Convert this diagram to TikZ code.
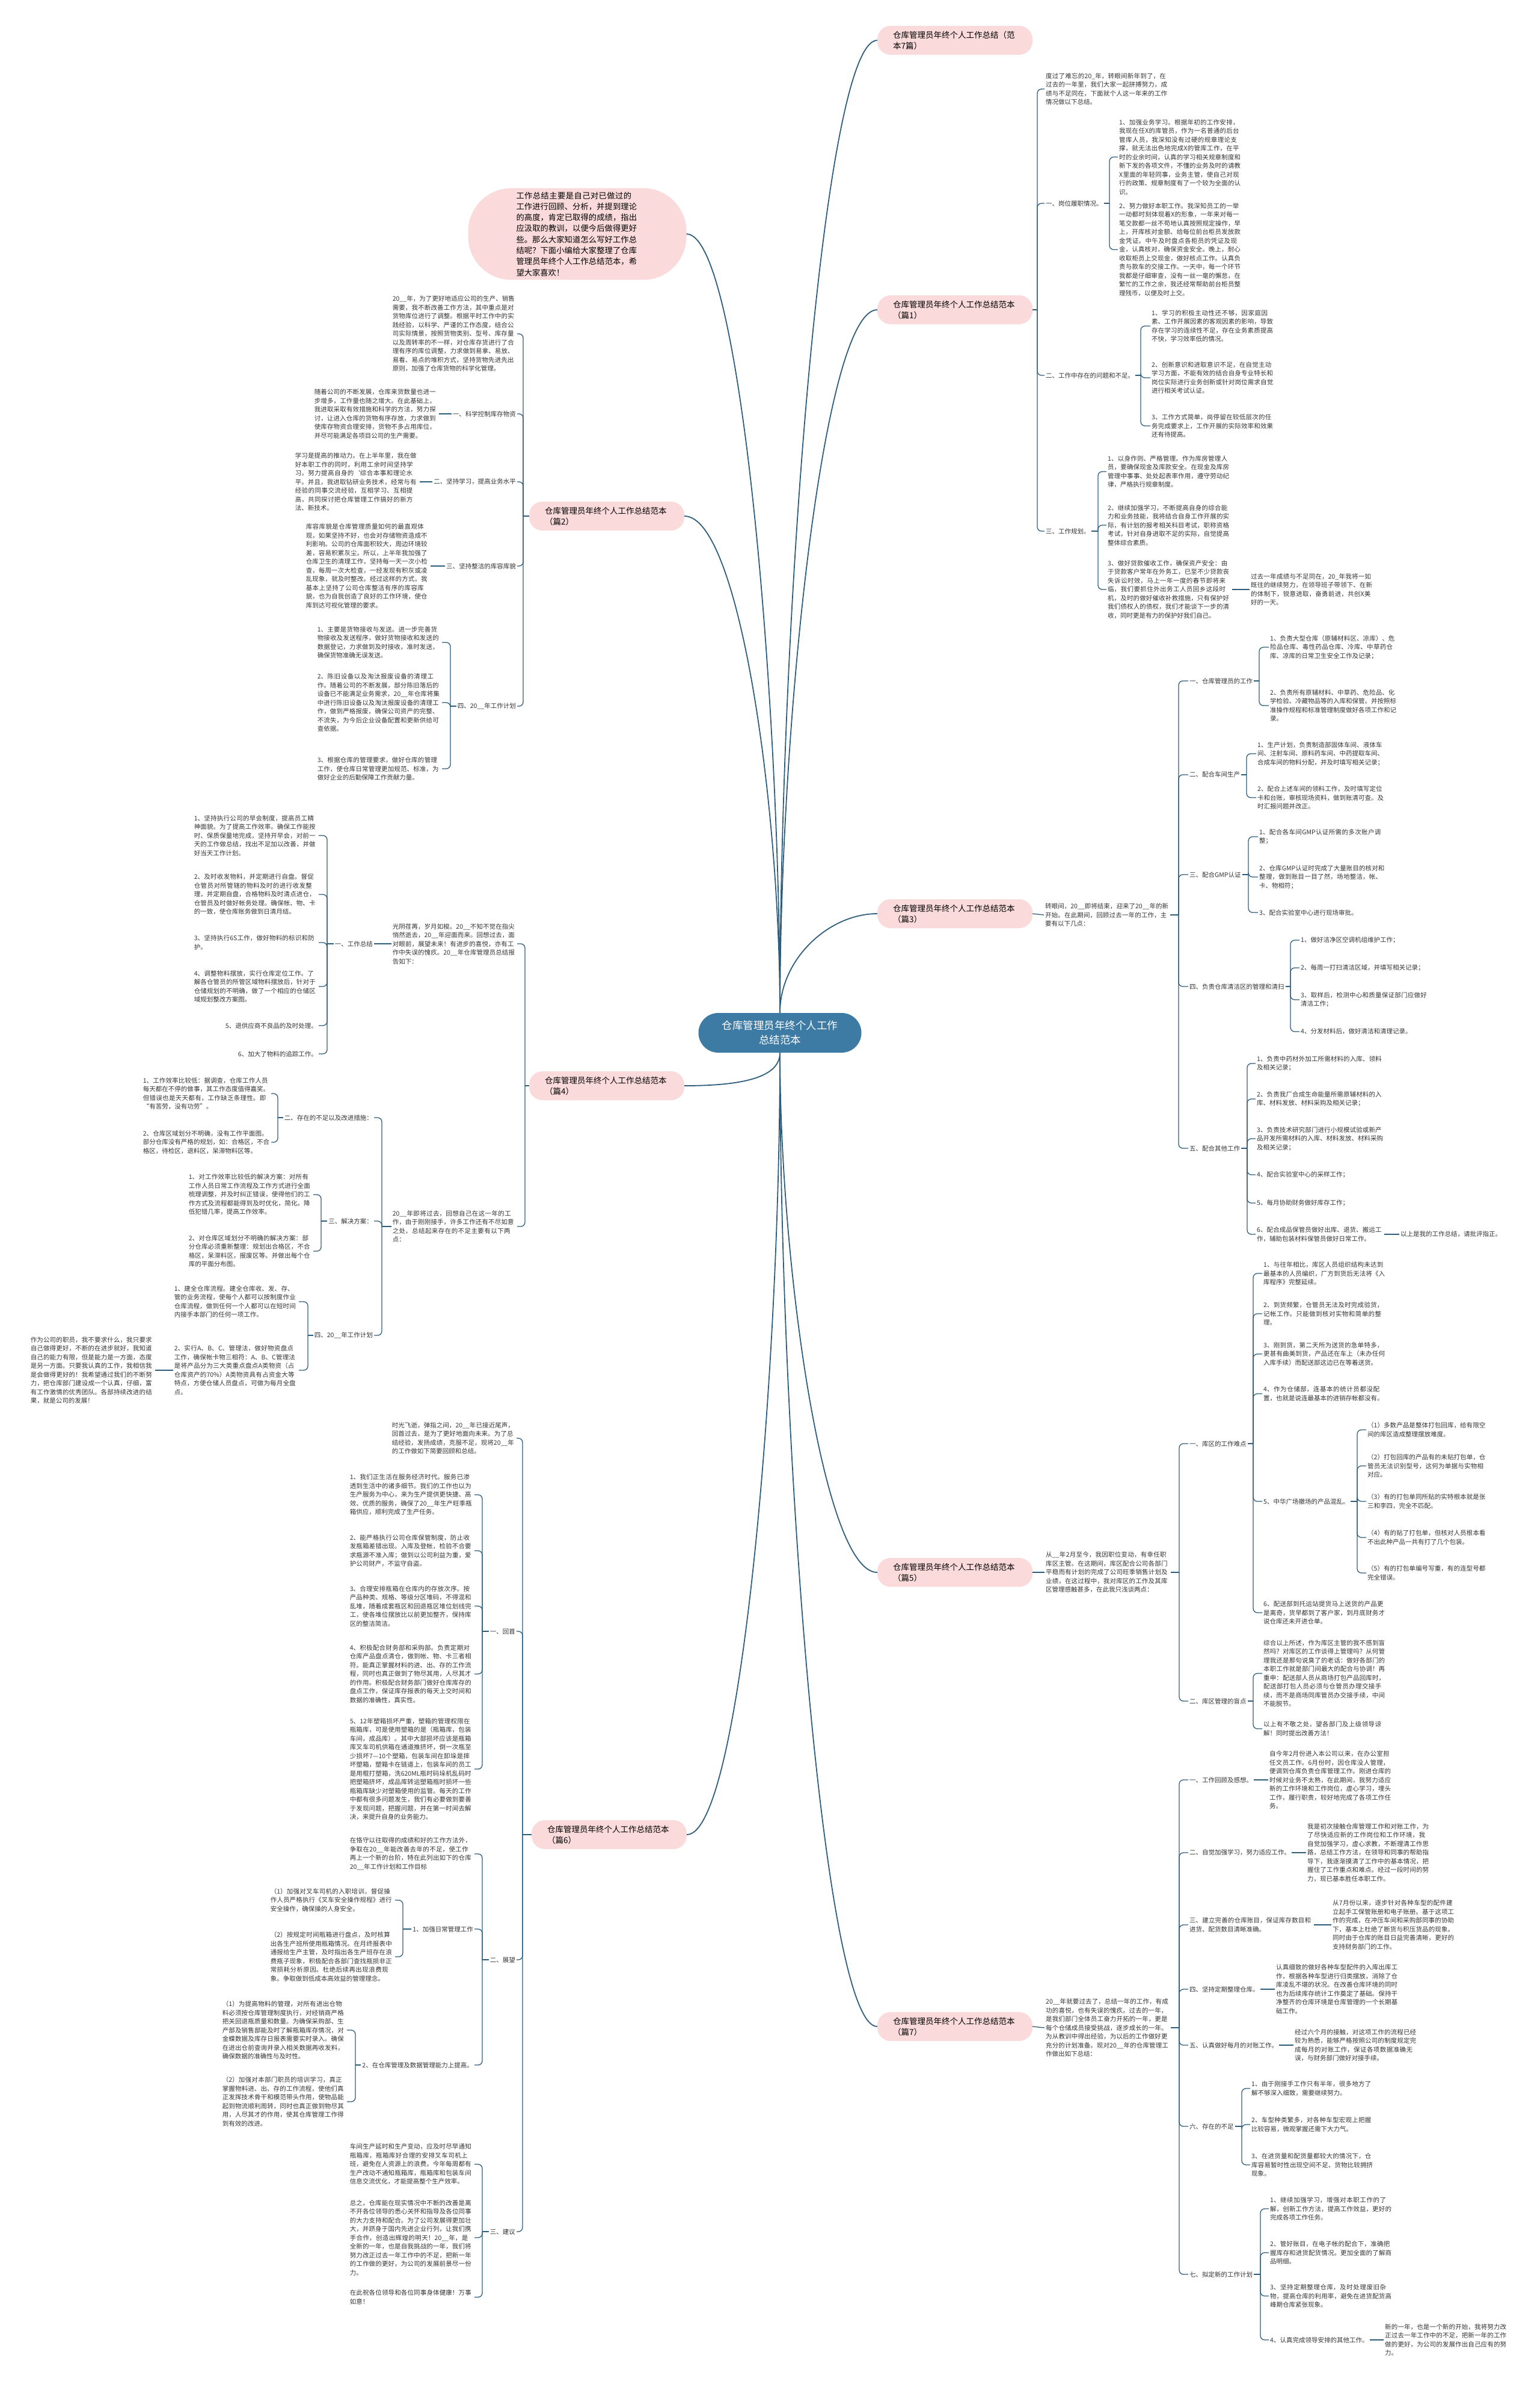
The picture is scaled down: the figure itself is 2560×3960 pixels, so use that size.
\documentclass[tikz,border=0pt]{standalone}
\usepackage{fontspec}
\setmainfont{Noto Sans CJK SC}
\XeTeXlinebreaklocale "zh"
\XeTeXlinebreakskip = 0pt plus 1pt
\usepackage{tikz}
\usetikzlibrary{calc}
\definecolor{rootfill}{HTML}{3D7BA5}
\definecolor{topicfill}{HTML}{FADADA}
\definecolor{linkcol}{HTML}{2E5D7C}
\definecolor{inkgray}{HTML}{333333}
\newcommand{\leaffont}{\fontsize{10.5}{14.5}\selectfont}

\begin{document}
\begin{tikzpicture}[x=1pt,y=-1pt]
    \tikzstyle{rootbox}=[fill=rootfill,text=white,rounded corners=33pt,minimum width=271pt,minimum height=66pt,align=center,font=\fontsize{17.5}{24}\selectfont]
    \tikzstyle{tbox}=[fill=topicfill,rounded corners=22pt,inner xsep=26pt,inner ysep=5pt,text width=206pt,minimum height=48pt,align=left,font=\fontsize{13.5}{18}\selectfont]
    \tikzstyle{bubble}=[fill=topicfill,rounded corners=72pt,inner xsep=80pt,inner ysep=6pt,text width=203pt,align=left,font=\fontsize{13.3}{18.3}\selectfont]
    \tikzstyle{leaf}=[inner sep=2pt,text width=205pt,align=left,text=inkgray,font=\leaffont]
    \tikzstyle{rleaf}=[leaf,anchor=west]
    \tikzstyle{lleaf}=[leaf,anchor=east]
    \tikzstyle{rlbl}=[inner sep=2pt,anchor=west,text=inkgray,font=\leaffont]
    \tikzstyle{llbl}=[inner sep=2pt,anchor=east,text=inkgray,font=\leaffont]
    \tikzstyle{trunk}=[draw=linkcol,line width=1.8pt]
    \tikzstyle{link}=[draw=linkcol,line width=1.3pt,rounded corners=7pt]
    \useasboundingbox (0,0) rectangle (2560,3960);

    % centre and topics
    \node[rootbox] (root) at (1297,1717) {仓库管理员年终个人工作\\总结范本};
    \node[tbox] (t7) at (1588,67) {仓库管理员年终个人工作总结（范\\本7篇）};
    \node[tbox] (p1) at (1588,515) {仓库管理员年终个人工作总结范本\\（篇1）};
    \node[tbox] (p3) at (1588,1519) {仓库管理员年终个人工作总结范本\\（篇3）};
    \node[tbox] (p5) at (1588,2614) {仓库管理员年终个人工作总结范本\\（篇5）};
    \node[tbox] (p7) at (1588,3369) {仓库管理员年终个人工作总结范本\\（篇7）};
    \node[bubble] (lead) at (960,389) {工作总结主要是自己对已做过的工作进行回顾、分析，并提到理论的高度，肯定已取得的成绩，指出应汲取的教训，以便今后做得更好些。那么大家知道怎么写好工作总结呢？下面小编给大家整理了仓库管理员年终个人工作总结范本，希望大家喜欢！};
    \node[tbox] (p2) at (1009,858) {仓库管理员年终个人工作总结范本\\（篇2）};
    \node[tbox] (p4) at (1009,1805) {仓库管理员年终个人工作总结范本\\（篇4）};
    \node[tbox] (p6) at (1013,3050) {仓库管理员年终个人工作总结范本\\（篇6）};

    \draw[trunk] (root.north) .. controls ($(root.north)+(0,-650)$) and ($(t7.west)+(-90,0)$) .. (t7.west);
    \draw[trunk] (root.north) .. controls ($(root.north)+(0,-480)$) and ($(p1.west)+(-90,0)$) .. (p1.west);
    \draw[trunk] (root.north) .. controls ($(root.north)+(0,-90)$) and ($(p3.west)+(-80,0)$) .. (p3.west);
    \draw[trunk] (root.south) .. controls ($(root.south)+(0,350)$) and ($(p5.west)+(-90,0)$) .. (p5.west);
    \draw[trunk] (root.south) .. controls ($(root.south)+(0,650)$) and ($(p7.west)+(-90,0)$) .. (p7.west);
    \draw[trunk] (root.north) .. controls ($(root.north)+(0,-520)$) and ($(lead.east)+(90,0)$) .. (lead.east);
    \draw[trunk] (root.north) .. controls ($(root.north)+(0,-350)$) and ($(p2.east)+(90,0)$) .. (p2.east);
    \draw[trunk] (root.south) .. controls ($(root.south)+(0,40)$) and ($(p4.east)+(100,0)$) .. (p4.east);
    \draw[trunk] (root.south) .. controls ($(root.south)+(0,530)$) and ($(p6.east)+(90,0)$) .. (p6.east);

    % 篇1
    \node[rleaf] (p1i) at (1737,148) {度过了难忘的20\_年，转眼间新年到了，在过去的一年里，我们大家一起拼搏努力，成绩与不足同在，下面就个人这一年来的工作情况做以下总结。};
    \node[rlbl] (p1a) at (1737,338) {一、岗位履职情况。};
    \node[rleaf] (p1a1) at (1859,261) {1、加强业务学习。根据年初的工作安排，我现在任X的库管员，作为一名普通的后台管库人员，我深知没有过硬的规章理论支撑，就无法出色地完成X的管库工作，在平时的业余时间，认真的学习相关规章制度和新下发的各项文件，不懂的业务及时的请教X里面的年轻同事，业务主管，使自己对现行的政策、规章制度有了一个较为全面的认识。};
    \node[rleaf] (p1a2) at (1859,415) {2、努力做好本职工作。我深知员工的一举一动都时刻体现着X的形象，一年来对每一笔交款都一丝不苟地认真按照规定操作，早上，开库核对金额、给每位前台柜员发放款金凭证。中午及时盘点各柜员的凭证及现金，认真核对，确保资金安全。晚上，耐心收取柜员上交现金，做好核点工作。认真负责与款车的交接工作。一天中，每一个环节我都是仔细审查，没有一丝一毫的懈怠，在繁忙的工作之余，我还经常帮助前台柜员整理残币，以便及时上交。};
    \node[rlbl] (p1b) at (1737,624) {二、工作中存在的问题和不足。};
    \node[rleaf] (p1b1) at (1913,542) {1、学习的积极主动性还不够，因家庭因素、工作开展因素的客观因素的影响，导致存在学习的连续性不足，存在业务素质提高不快，学习效率低的情况。};
    \node[rleaf] (p1b2) at (1913,628) {2、创新意识和进取意识不足，在自觉主动学习方面，不能有效的结合自身专业特长和岗位实际进行业务创新或针对岗位需求自觉进行相关考试认证。};
    \node[rleaf] (p1b3) at (1913,708) {3、工作方式简单，尚停留在较低层次的任务完成要求上，工作开展的实际效率和效果还有待提高。};
    \node[rlbl] (p1c) at (1737,883) {三、工作规划。};
    \node[rleaf] (p1c1) at (1840,784) {1、以身作则、严格管理。作为库房管理人员，要确保现金及库款安全。在现金及库房管理中事事、处处起表率作用，遵守劳动纪律，严格执行规章制度。};
    \node[rleaf] (p1c2) at (1840,873) {2、继续加强学习，不断提高自身的综合能力和业务技能，我将结合自身工作开展的实际，有计划的报考相关科目考试，职称资格考试，针对自身进取不足的实际，自觉提高整体综合素质。};
    \node[rleaf] (p1c3) at (1840,980) {3、做好贷款催收工作，确保资产安全：由于贷款客户常年在外务工，已至不少贷款丧失诉讼时效，马上一年一度的春节即将来临，我们要抓住外出务工人员回乡这段时机，及时的做好催收补救措施，只有保护好我们债权人的债权，我们才能谈下一步的清收，同时更是有力的保护好我们自己。};
    \node[rleaf] (p1c3a) at (2078,980) {过去一年成绩与不足同在，20\_年我将一如既往的继续努力，在领导班子带领下、在新的体制下，锐意进取，奋勇前进，共创X美好的一天。};
    \coordinate (s1) at (1725,515);
    \coordinate (s1a) at (1845,338);
    \coordinate (s1b) at (1897,624);
    \coordinate (s1c) at (1826,883);
    \draw[link] (p1.east) -- (s1);
    \foreach \n in {p1i,p1a,p1b,p1c} \draw[link] (s1) |- (\n.west);
    \draw[link] (p1a.east) -- (s1a);
    \foreach \n in {p1a1,p1a2} \draw[link] (s1a) |- (\n.west);
    \draw[link] (p1b.east) -- (s1b);
    \foreach \n in {p1b1,p1b2,p1b3} \draw[link] (s1b) |- (\n.west);
    \draw[link] (p1c.east) -- (s1c);
    \foreach \n in {p1c1,p1c2,p1c3} \draw[link] (s1c) |- (\n.west);
    \draw[link] (p1c3.east) -- (p1c3a.west);

    % 篇3
    \node[rleaf,text width=206pt] (p3i) at (1736,1521) {转眼间，20\_\_即将结束，迎来了20\_\_年的新开始。在此期间，回顾过去一年的工作，主要有以下几点：};
    \node[rlbl] (p3a) at (1976,1132) {一、仓库管理员的工作};
    \node[rleaf,text width=210pt] (p3a1) at (2110,1076) {1、负责大型仓库（原辅材料区、凉库）、危险品仓库、毒性药品仓库、冷库、中草药仓库、凉库的日常卫生安全工作及记录；};
    \node[rleaf,text width=210pt] (p3a2) at (2110,1173) {2、负责所有原辅材料、中草药、危险品、化学检验、冷藏物品等的入库和保管。并按照标准操作规程和标准管理制度做好各项工作和记录。};
    \node[rlbl] (p3b) at (1976,1288) {二、配合车间生产};
    \node[rleaf,text width=210pt] (p3b1) at (2089,1253) {1、生产计划，负责制造部固体车间、液体车间、注射车间、原料药车间、中药提取车间、合成车间的物料分配，并及时填写相关记录；};
    \node[rleaf,text width=210pt] (p3b2) at (2089,1326) {2、配合上述车间的领料工作，及时填写定位卡和台账，审核现场资料，做到账清可查。及时汇报问题并改正。};
    \node[rlbl] (p3c) at (1976,1454) {三、配合GMP认证};
    \node[rleaf,text width=210pt] (p3c1) at (2092,1391) {1、配合各车间GMP认证所需的多次账户调整；};
    \node[rleaf,text width=210pt] (p3c2) at (2092,1458) {2、仓库GMP认证时完成了大量账目的核对和整理，做到账目一目了然，场地整洁，帐、卡、物相符；};
    \node[rlbl] (p3c3) at (2092,1517) {3、配合实验室中心进行现场审批。};
    \node[rlbl] (p3d) at (1976,1640) {四、负责仓库清洁区的管理和清扫};
    \node[rlbl] (p3d1) at (2161,1563) {1、做好洁净区空调机组维护工作；};
    \node[rlbl] (p3d2) at (2161,1609) {2、每周一打扫清洁区域，并填写相关记录；};
    \node[rleaf,text width=215pt] (p3d3) at (2161,1662) {3、取样后，检测中心和质量保证部门应做好清洁工作；};
    \node[rlbl] (p3d4) at (2161,1715) {4、分发材料后，做好清洁和清理记录。};
    \node[rlbl] (p3e) at (1976,1909) {五、配合其他工作};
    \node[rleaf,text width=210pt] (p3e1) at (2088,1768) {1、负责中药材外加工所需材料的入库、领料及相关记录；};
    \node[rleaf,text width=210pt] (p3e2) at (2088,1827) {2、负责我厂合成生命能量所需原辅材料的入库、材料发放、材料采购及相关记录；};
    \node[rleaf,text width=210pt] (p3e3) at (2088,1893) {3、负责技术研究部门进行小规模试验或新产品开发所需材料的入库、材料发放、材料采购及相关记录；};
    \node[rlbl] (p3e4) at (2088,1953) {4、配合实验室中心的采样工作；};
    \node[rlbl] (p3e5) at (2088,2000) {5、每月协助财务做好库存工作；};
    \node[rleaf,text width=210pt] (p3e6) at (2088,2052) {6、配合成品保管员做好出库、退货、搬运工作，辅助包装材料保管员做好日常工作。};
    \node[rlbl] (p3e6a) at (2327,2052) {以上是我的工作总结，请批评指正。};
    \coordinate (s3) at (1960,1521);
    \coordinate (s3a) at (2094,1132);
    \coordinate (s3b) at (2073,1288);
    \coordinate (s3c) at (2076,1454);
    \coordinate (s3d) at (2146,1640);
    \coordinate (s3e) at (2074,1909);
    \draw[link] (p3.east) -- (p3i.west);
    \draw[link] (p3i.east) -- (s3);
    \foreach \n in {p3a,p3b,p3c,p3d,p3e} \draw[link] (s3) |- (\n.west);
    \draw[link] (p3a.east) -- (s3a);
    \foreach \n in {p3a1,p3a2} \draw[link] (s3a) |- (\n.west);
    \draw[link] (p3b.east) -- (s3b);
    \foreach \n in {p3b1,p3b2} \draw[link] (s3b) |- (\n.west);
    \draw[link] (p3c.east) -- (s3c);
    \foreach \n in {p3c1,p3c2,p3c3} \draw[link] (s3c) |- (\n.west);
    \draw[link] (p3d.east) -- (s3d);
    \foreach \n in {p3d1,p3d2,p3d3,p3d4} \draw[link] (s3d) |- (\n.west);
    \draw[link] (p3e.east) -- (s3e);
    \foreach \n in {p3e1,p3e2,p3e3,p3e4,p3e5,p3e6} \draw[link] (s3e) |- (\n.west);
    \draw[link] (p3e6.east) -- (p3e6a.west);

    % 篇5
    \node[rleaf,text width=206pt] (p5i) at (1737,2614) {从\_\_年2月至今，我因职位变动，有幸任职库区主管。在这期间，库区配合公司各部门平稳而有计划的完成了公司旺季销售计划及业绩，在这过程中，我对库区的工作及其库区管理感触甚多，在此我只浅谈两点：};
    \node[rlbl] (p5a) at (1976,2400) {一、库区的工作难点};
    \node[rleaf] (p5a1) at (2099,2117) {1、与往年相比，库区人员组织结构未达到最基本的人员编织，厂方到货后无法将《入库程序》完整延续。};
    \node[rleaf] (p5a2) at (2099,2184) {2、到货频繁，仓管员无法及时完成验货，记帐工作。只能做到核对实物和简单的整理。};
    \node[rleaf] (p5a3) at (2099,2251) {3、刚到货，第二天所为送货的急单特多，更甚有曲美到货，产品还在车上（未办任何入库手续）而配送部这边已在等着送货。};
    \node[rleaf] (p5a4) at (2099,2317) {4、作为仓储部，连基本的统计员都没配置，也就是说连最基本的进销存帐都没有。};
    \node[rlbl] (p5a5) at (2099,2496) {5、中华广场撤场的产品混乱。};
    \node[rleaf,text width=198pt] (p5a5a) at (2272,2377) {（1）多数产品是整体打包回库，给有限空间的库区造成整理摆放难度。};
    \node[rleaf,text width=198pt] (p5a5b) at (2272,2437) {（2）打包回库的产品有的未贴打包单，仓管员无法识别型号，这何为单据与实物相对应。};
    \node[rleaf,text width=198pt] (p5a5c) at (2272,2496) {（3）有的打包单同所贴的实特根本就是张三和李四，完全不匹配。};
    \node[rleaf,text width=198pt] (p5a5d) at (2272,2556) {（4）有的贴了打包单，但核对人员根本看不出此种产品一共有打了几个包装。};
    \node[rleaf,text width=198pt] (p5a5e) at (2272,2615) {（5）有的打包单编号写重，有的连型号都完全错误。};
    \node[rleaf] (p5a6) at (2099,2681) {6、配送部到托运站提货马上送货的产品更是离奇，货早都到了客户家，到月底财务才说仓库还未开进仓单。};
    \node[rlbl] (p5b) at (1976,2828) {二、库区管理的盲点};
    \node[rleaf] (p5b1) at (2099,2782) {综合以上所述，作为库区主管的我不感到盲然吗？对库区的工作谈得上管理吗？从何管理我还是那句说臭了的老话：做好各部门的本职工作就是部门间最大的配合与协调！再重申：配送部人员从商场打包产品回库时，配送部打包人员必须与仓管员办理交接手续，而不是商场同库管员办交接手续，中间不能脱节。};
    \node[rleaf] (p5b2) at (2099,2874) {以上有不敬之处，望各部门及上级领导谅解！同时提出改善方法！};
    \coordinate (s5) at (1961,2614);
    \coordinate (s5a) at (2084,2400);
    \coordinate (s5a5) at (2257,2496);
    \coordinate (s5b) at (2084,2828);
    \draw[link] (p5.east) -- (p5i.west);
    \draw[link] (p5i.east) -- (s5);
    \foreach \n in {p5a,p5b} \draw[link] (s5) |- (\n.west);
    \draw[link] (p5a.east) -- (s5a);
    \foreach \n in {p5a1,p5a2,p5a3,p5a4,p5a5,p5a6} \draw[link] (s5a) |- (\n.west);
    \draw[link] (p5a5.east) -- (s5a5);
    \foreach \n in {p5a5a,p5a5b,p5a5c,p5a5d,p5a5e} \draw[link] (s5a5) |- (\n.west);
    \draw[link] (p5b.east) -- (s5b);
    \foreach \n in {p5b1,p5b2} \draw[link] (s5b) |- (\n.west);

    % 篇7
    \node[rleaf,text width=206pt] (p7i) at (1737,3371) {20\_\_年就要过去了，总结一年的工作，有成功的喜悦，也有失误的愧疚。过去的一年，是我们部门全体员工奋力开拓的一年，更是每个仓储成员接受挑战，逐步成长的一年。为从教训中得出经验，为以后的工作做好更充分的计划准备。现对20\_\_年的仓库管理工作做出如下总结：};
    \node[rlbl] (p7a) at (1976,2959) {一、工作回顾及感想。};
    \node[rleaf] (p7a1) at (2109,2959) {自今年2月份进入本公司以来，在办公室担任文员工作。6月份时，因仓库没人管理，便调到仓库负责仓库管理工作。刚进仓库的时候对业务不太熟，在此期间，我努力适应新的工作环境和工作岗位，虚心学习，埋头工作，履行职责，较好地完成了各项工作任务。};
    \node[rlbl] (p7b) at (1976,3080) {二、自觉加强学习，努力适应工作。};
    \node[rleaf] (p7b1) at (2172,3080) {我是初次接触仓库管理工作和对账工作，为了尽快适应新的工作岗位和工作环境，我自觉加强学习，虚心求教，不断理清工作思路，总结工作方法，在领导和同事的帮助指导下，我逐渐摸清了工作中的基本情况，把握住了工作重点和难点。经过一段时间的努力，现已基本胜任本职工作。};
    \node[rleaf] (p7c) at (1976,3200) {三、建立完善的仓库账目，保证库存数目和进货、配货数目清晰准确。};
    \node[rleaf] (p7c1) at (2214,3200) {从7月份以来，逐步针对各种车型的配件建立起手工保管账册和电子账册。基于这项工作的完成，在冲压车间和采购部同事的协助下，基本上杜绝了断货与积压货品的现象。同时由于仓库的账目日益完善清晰，更好的支持财务部门的工作。};
    \node[rlbl] (p7d) at (1976,3307) {四、坚持定期整理仓库。};
    \node[rleaf] (p7d1) at (2120,3307) {认真细致的做好各种车型配件的入库出库工作，根据各种车型进行归类摆放，消除了仓库凌乱不堪的状况。在改善仓库环境的同时也为后续库存统计工作奠定了基础。保持干净整齐的仓库环境是仓库管理的一个长期基础工作。};
    \node[rlbl] (p7e) at (1976,3400) {五、认真做好每月的对账工作。};
    \node[rleaf] (p7e1) at (2151,3400) {经过六个月的接触，对这项工作的流程已经较为熟悉，能够严格按照公司的制度规定完成每月的对账工作，保证各项数据准确无误，与财务部门做好对接手续。};
    \node[rlbl] (p7f) at (1976,3535) {六、存在的不足};
    \node[rleaf] (p7f1) at (2079,3472) {1、由于刚接手工作只有半年，很多地方了解不够深入细致，需要继续努力。};
    \node[rleaf] (p7f2) at (2079,3532) {2、车型种类繁多，对各种车型宏观上把握比较容易，微观掌握还需下大力气。};
    \node[rleaf] (p7f3) at (2079,3599) {3、在进货量和配货量都较大的情况下，仓库容易暂时性出现空间不足、货物比较拥挤现象。};
    \node[rlbl] (p7g) at (1976,3781) {七、拟定新的工作计划};
    \node[rleaf] (p7g1) at (2110,3672) {1、继续加强学习，增强对本职工作的了解，创新工作方法，提高工作效益，更好的完成各项工作任务。};
    \node[rleaf] (p7g2) at (2110,3745) {2、管好账目，在电子帐的配合下，准确把握库存和进货配货情况。更加全面的了解商品明细。};
    \node[rleaf] (p7g3) at (2110,3817) {3、坚持定期整理仓库，及时处理废旧杂物，提高仓库的利用率，避免在进货配货高峰期仓库紧张现象。};
    \node[rlbl] (p7g4) at (2110,3890) {4、认真完成领导安排的其他工作。};
    \node[rleaf] (p7g4a) at (2301,3890) {新的一年，也是一个新的开始，我将努力改正过去一年工作中的不足，把新一年的工作做的更好，为公司的发展作出自己应有的努力。};
    \coordinate (s7) at (1961,3371);
    \coordinate (s7f) at (2065,3535);
    \coordinate (s7g) at (2096,3781);
    \draw[link] (p7.east) -- (p7i.west);
    \draw[link] (p7i.east) -- (s7);
    \foreach \n in {p7a,p7b,p7c,p7d,p7e,p7f,p7g} \draw[link] (s7) |- (\n.west);
    \draw[link] (p7a.east) -- (p7a1.west);
    \draw[link] (p7b.east) -- (p7b1.west);
    \draw[link] (p7c.east) -- (p7c1.west);
    \draw[link] (p7d.east) -- (p7d1.west);
    \draw[link] (p7e.east) -- (p7e1.west);
    \draw[link] (p7f.east) -- (s7f);
    \foreach \n in {p7f1,p7f2,p7f3} \draw[link] (s7f) |- (\n.west);
    \draw[link] (p7g.east) -- (s7g);
    \foreach \n in {p7g1,p7g2,p7g3,p7g4} \draw[link] (s7g) |- (\n.west);
    \draw[link] (p7g4.east) -- (p7g4a.west);

    % 篇2
    \node[lleaf] (p2i) at (860,555) {20\_\_年，为了更好地适应公司的生产、销售需要，我不断改善工作方法，其中重点是对货物库位进行了调整。根据平时工作中的实践经验，以科学、严谨的工作态度，结合公司实际情景，按照货物类别、型号、库存量以及周转率的不一样，对仓库存货进行了合理有序的库位调整，力求做到易拿、易放、易看、易点的堆积方式，坚持货物先进先出原则，加强了仓库货物的科学化管理。};
    \node[llbl] (p2a) at (860,688) {一、科学控制库存物资};
    \node[lleaf] (p2a1) at (730,688) {随着公司的不断发展，仓库来货数量也进一步增多，工作量也随之增大。在此基础上，我进取采取有效措施和科学的方法，努力探讨，让进入仓库的货物有序存放，力求做到使库存物资合理安排，货物不多占用库位，并尽可能满足各项目公司的生产需要。};
    \node[llbl] (p2b) at (860,801) {二、坚持学习，提高业务水平};
    \node[lleaf] (p2b1) at (698,801) {学习是提高的推动力。在上半年里，我在做好本职工作的同时，利用工余时间坚持学习，努力提高自身的`综合本事和理论水平。并且，我进取钻研业务技术，经常与有经验的同事交流经验，互相学习、互相提高，共同探讨把仓库管理工作搞好的新方法、新技术。};
    \node[llbl] (p2c) at (860,941) {三、坚持整洁的库容库貌};
    \node[lleaf] (p2c1) at (716,941) {库容库貌是仓库管理质量如何的最直观体现，如果坚持不好，也会对存储物资造成不利影响。公司的仓库面积较大，周边环境较差，容易积累灰尘。所以，上半年我加强了仓库卫生的清理工作，坚持每一天一次小检查，每周一次大检查，一经发现有积灰或凌乱现象，就及时整改。经过这样的方式，我基本上坚持了公司仓库整洁有序的库容库貌，也为自我创造了良好的工作环境，使仓库到达可视化管理的要求。};
    \node[llbl] (p2d) at (860,1174) {四、20\_\_年工作计划};
    \node[lleaf] (p2d1) at (735,1068) {1、主要是货物接收与发送。进一步完善货物接收及发送程序，做好货物接收和发送的数据登记，力求做到及时接收，准时发送，确保货物准确无误发送。};
    \node[lleaf] (p2d2) at (735,1168) {2、陈旧设备以及淘汰报废设备的清理工作。随着公司的不断发展，部分陈旧落后的设备已不能满足业务需求，20\_\_年仓库将集中进行陈旧设备以及淘汰报废设备的清理工作，做到严格报废，确保公司资产的完整、不流失，为今后企业设备配置和更新供给可查依据。};
    \node[lleaf] (p2d3) at (735,1278) {3、根据仓库的管理要求，做好仓库的管理工作，使仓库日常管理更加规范、标准，为做好企业的后勤保障工作贡献力量。};
    \coordinate (s2) at (870,858);
    \coordinate (s2d) at (749,1174);
    \draw[link] (p2.west) -- (s2);
    \foreach \n in {p2i,p2a,p2b,p2c,p2d} \draw[link] (s2) |- (\n.east);
    \draw[link] (p2a.west) -- (p2a1.east);
    \draw[link] (p2b.west) -- (p2b1.east);
    \draw[link] (p2c.west) -- (p2c1.east);
    \draw[link] (p2d.west) -- (s2d);
    \foreach \n in {p2d1,p2d2,p2d3} \draw[link] (s2d) |- (\n.east);

    % 篇4
    \node[lleaf] (p4i) at (860,1569) {光阴荏苒，岁月如梭。20\_\_不知不觉在指尖悄然逝去，20\_\_年迎面而来。回想过去，面对眼前，展望未来！有进步的喜悦，亦有工作中失误的愧疚。20\_\_年仓库管理员总结报告如下：};
    \node[llbl] (p4a) at (622,1569) {一、工作总结};
    \node[lleaf] (p4a1) at (530,1389) {1、坚持执行公司的早会制度，提高员工精神面貌。为了提高工作效率。确保工作能按时、保质保量地完成，坚持开早会，对前一天的工作做总结，找出不足加以改善，并做好当天工作计划。};
    \node[lleaf] (p4a2) at (530,1487) {2、及时收发物料，并定期进行自盘。督促仓管员对所管辖的物料及时的进行收发整理，并定期自盘，合格物料及时清点进仓，仓管员及时做好帐务处理。确保帐、物、卡的一致，使仓库账务做到日清月结。};
    \node[lleaf] (p4a3) at (530,1567) {3、坚持执行6S工作，做好物料的标识和防护。};
    \node[lleaf] (p4a4) at (530,1640) {4、调整物料摆放，实行仓库定位工作。了解各仓管员的所管区域物料摆放后，针对于仓储规划的不明确，做了一个相应的仓储区域规划整改方案图。};
    \node[llbl] (p4a5) at (530,1705) {5、退供应商不良品的及时处理。};
    \node[llbl] (p4a6) at (530,1752) {6、加大了物料的追踪工作。};
    \node[lleaf] (p4j) at (860,2039) {20\_\_年即将过去，回想自己在这一年的工作，由于刚刚接手，许多工作还有不尽如意之处，总结起来存在的不足主要有以下两点：};
    \node[llbl] (p4b) at (622,1858) {二、存在的不足以及改进措施：};
    \node[lleaf,text width=211pt] (p4b1) at (451,1818) {1、工作效率比较低：据调查，仓库工作人员每天都在不停的做事，其工作态度值得嘉奖。但错误也是天天都有，工作缺乏条理性。即“有苦劳，没有功劳”。};
    \node[lleaf,text width=211pt] (p4b2) at (451,1899) {2、仓库区域划分不明确，没有工作平面图。部分仓库没有严格的规划，如：合格区，不合格区，待检区，退料区，呆滞物料区等。};
    \node[llbl] (p4c) at (622,2030) {三、解决方案：};
    \node[lleaf] (p4c1) at (521,1986) {1、对工作效率比较低的解决方案：对所有工作人员日常工作流程及工作方式进行全面梳理调整，并及时纠正错误，使得他们的工作方式及流程都能得到及时优化，简化。降低犯错几率，提高工作效率。};
    \node[lleaf] (p4c2) at (521,2080) {2、对仓库区域划分不明确的解决方案：部分仓库必须重新整理：规划出合格区，不合格区，呆滞料区，报废区等。并做出每个仓库的平面分布图。};
    \node[llbl] (p4d) at (622,2220) {四、20\_\_年工作计划};
    \node[lleaf] (p4d1) at (497,2164) {1、建全仓库流程。建全仓库收、发、存、管的业务流程，使每个人都可以按制度作业仓库流程，做到任何一个人都可以在短时间内接手本部门的任何一项工作。};
    \node[lleaf] (p4d2) at (497,2278) {2、实行A、B、C、管理法，做好物资盘点工作，确保帐卡物三相符：A、B、C管理法是将产品分为三大类重点盘点A类物资（占仓库资产的70\%）A类物资具有占资金大等特点，方便仓储人员盘点，可做为每月全盘点。};
    \node[lleaf] (p4d2a) at (258,2278) {作为公司的职员，我不要求什么，我只要求自己做得更好，不断的在进步就好，我知道自己的能力有限，但是能力是一方面，态度是另一方面。只要我认真的工作，我相信我是会做得更好的！我希望通过我们的不断努力，把仓库部门建设成一个认真，仔细，富有工作激情的优秀团队。各部持续改进的结果，就是公司的发展！};
    \coordinate (s4) at (873,1805);
    \coordinate (s4a) at (544,1569);
    \coordinate (s4j) at (635,2039);
    \coordinate (s4b) at (462,1858);
    \coordinate (s4c) at (534,2030);
    \coordinate (s4d) at (512,2220);
    \draw[link] (p4.west) -- (s4);
    \foreach \n in {p4i,p4j} \draw[link] (s4) |- (\n.east);
    \draw[link] (p4i.west) -- (p4a.east);
    \draw[link] (p4a.west) -- (s4a);
    \foreach \n in {p4a1,p4a2,p4a3,p4a4,p4a5,p4a6} \draw[link] (s4a) |- (\n.east);
    \draw[link] (p4j.west) -- (s4j);
    \foreach \n in {p4b,p4c,p4d} \draw[link] (s4j) |- (\n.east);
    \draw[link] (p4b.west) -- (s4b);
    \foreach \n in {p4b1,p4b2} \draw[link] (s4b) |- (\n.east);
    \draw[link] (p4c.west) -- (s4c);
    \foreach \n in {p4c1,p4c2} \draw[link] (s4c) |- (\n.east);
    \draw[link] (p4d.west) -- (s4d);
    \foreach \n in {p4d1,p4d2} \draw[link] (s4d) |- (\n.east);
    \draw[link] (p4d2.west) -- (p4d2a.east);

    % 篇6
    \node[lleaf] (p6i) at (859,2391) {时光飞逝，弹指之间，20\_\_年已接近尾声，回首过去，是为了更好地面向未来。为了总结经验，发扬成绩，克服不足，现将20\_\_年的工作做如下简要回顾和总结。};
    \node[llbl] (p6a) at (859,2712) {一、回首};
    \node[lleaf] (p6a1) at (789,2485) {1、我们正生活在服务经济时代。服务已渗透到生活中的诸多细节。我们的工作也以为生产服务为中心，来为生产提供更快捷、高效、优质的服务，确保了20\_\_年生产旺季瓶箱供应，顺利完成了生产任务。};
    \node[lleaf] (p6a2) at (789,2578) {2、能严格执行公司仓库保管制度，防止收发瓶箱差错出现。入库及登帐，检验不合要求瓶源不准入库；做到以公司利益为重，爱护公司财产，不监守自盗。};
    \node[lleaf] (p6a3) at (789,2670) {3、合理安排瓶箱在仓库内的存放次序。按产品种类、规格、等级分区堆码，不得混和乱堆，随着成套瓶区和回退瓶区堆位划线完工，使各堆位摆放比以前更加整齐，保持库区的整洁简洁。};
    \node[lleaf] (p6a4) at (789,2783) {4、积极配合财务部和采购部。负责定期对仓库产品盘点清仓，做到帐、物、卡三者相符。能真正掌握材料的进、出、存的工作流程，同时也真正做到了物尽其用，人尽其才的作用。积极配合财务部门做好仓库库存的盘点工作，保证库存报表的每天上交时间和数据的准确性，真实性。};
    \node[lleaf] (p6a5) at (789,2941) {5、12年塑箱损坏严重，塑箱的管理权限在瓶箱库，可是使用塑箱的是（瓶箱库，包装车间，成品库）。其中大部损坏应该是瓶箱库叉车司机供箱在通道推挤坏，倒一次瓶至少损坏7—10个塑箱，包装车间在卸垛是摔坏塑箱，塑箱卡在链道上，包装车间的员工是用棍打塑箱，洗620ML瓶时码垛机乱码时把塑箱挤坏，成品库转运塑箱瓶时损坏一些瓶箱库缺少对塑箱使用的监管。每天的工作中都有很多问题发生，我们有必要做到要善于发现问题，把握问题，并在第一时间去解决，来提升自身的业务能力。};
    \node[llbl] (p6b) at (859,3258) {二、展望};
    \node[lleaf] (p6b1) at (789,3082) {在恪守以往取得的成绩和好的工作方法外，争取在20\_\_年能改善去年的不足，使工作再上一个新的台阶，特在此列出如下的仓库20\_\_年工作计划和工作目标};
    \node[llbl] (p6b2) at (789,3207) {1、加强日常管理工作};
    \node[lleaf] (p6b2a) at (657,3159) {（1）加强对叉车司机的入职培训，督促操作人员严格执行《叉车安全操作规程》进行安全操作，确保操的人身安全。};
    \node[lleaf] (p6b2b) at (657,3253) {（2）按规定时间瓶箱进行盘点，及时核算出各生产班所使用瓶箱情况。在月终报表中通报给生产主管，及时指出各生产班存在浪费瓶子现象，积极配合各部门查找瓶损非正常损耗分析原因。杜绝后续再出现浪费现象。争取做到低成本高效益的管理理念。};
    \node[llbl] (p6b3) at (789,3433) {2、在仓库管理及数据管理能力上提高。};
    \node[lleaf] (p6b3a) at (577,3375) {（1）为提高物料的管理，对所有进出仓物料必须按仓库管理制度执行，对经销商严格把关回退瓶质量和数量。为确保采购部、生产部及销售部能及时了解瓶箱库存情况，对金蝶数据及库存日报表需要实时录入。确保在进出仓前查询并录入相关数据再收发料，确保数据的准确性与及时性。};
    \node[lleaf] (p6b3b) at (577,3494) {（2）加强对本部门职员的培训学习，真正掌握物料进、出、存的工作流程，使他们真正发挥技术骨干和模范带头作用，使物品能起到物流顺利周转，同时也真正做到物尽其用，人尽其才的作用，使其仓库管理工作得到有效的改进。};
    \node[llbl] (p6c) at (859,3710) {三、建议};
    \node[lleaf] (p6c1) at (789,3598) {车间生产延时和生产变动，应及时尽早通知瓶箱库，瓶箱库好合理的安排叉车司机上班，避免在人资源上的浪费。今年每周都有生产改动不通知瓶箱库，瓶箱库和包装车间信息交流优化，才能提高整个生产效率。};
    \node[lleaf] (p6c2) at (789,3720) {总之，仓库能在现实情况中不断的改善是离不开各位领导的悉心关怀和指导及各位同事的大力支持和配合。为了公司发展得更加壮大，并跻身于国内先进企业行列，让我们携手合作，创造出辉煌的明天！20\_\_年，是全新的一年，也是自我挑战的一年，我们将努力改正过去一年工作中的不足，把新一年的工作做的更好，为公司的发展前景尽一份力。};
    \node[lleaf] (p6c3) at (789,3819) {在此祝各位领导和各位同事身体健康！万事如意！};
    \coordinate (s6) at (869,3050);
    \coordinate (s6a) at (802,2712);
    \coordinate (s6b) at (802,3258);
    \coordinate (s6b2) at (670,3207);
    \coordinate (s6b3) at (591,3433);
    \coordinate (s6c) at (802,3710);
    \draw[link] (p6.west) -- (s6);
    \foreach \n in {p6i,p6a,p6b,p6c} \draw[link] (s6) |- (\n.east);
    \draw[link] (p6a.west) -- (s6a);
    \foreach \n in {p6a1,p6a2,p6a3,p6a4,p6a5} \draw[link] (s6a) |- (\n.east);
    \draw[link] (p6b.west) -- (s6b);
    \foreach \n in {p6b1,p6b2,p6b3} \draw[link] (s6b) |- (\n.east);
    \draw[link] (p6b2.west) -- (s6b2);
    \foreach \n in {p6b2a,p6b2b} \draw[link] (s6b2) |- (\n.east);
    \draw[link] (p6b3.west) -- (s6b3);
    \foreach \n in {p6b3a,p6b3b} \draw[link] (s6b3) |- (\n.east);
    \draw[link] (p6c.west) -- (s6c);
    \foreach \n in {p6c1,p6c2,p6c3} \draw[link] (s6c) |- (\n.east);
  \end{tikzpicture}
\end{document}
